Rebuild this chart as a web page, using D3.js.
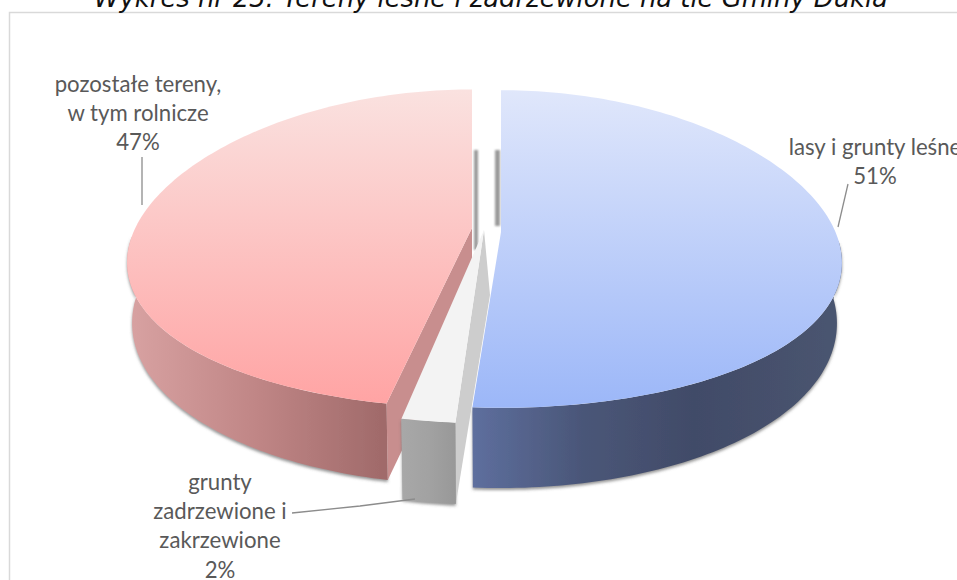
<!DOCTYPE html>
<html><head><meta charset="utf-8">
<script src="https://cdn.jsdelivr.net/npm/d3@7"></script>
<style>html,body{margin:0;padding:0;background:#fff;overflow:hidden}svg{display:block}</style>
</head><body><div id="c"></div>
<script>
const titleText = "Wykres nr 23: Tereny leśne i zadrzewione na tle Gminy Dukla";
const categories = ["lasy i grunty leśne","grunty zadrzewione i zakrzewione","pozostałe tereny, w tym rolnicze"];
const values = [51.2,2.3,46.5];
const labelLines = [["lasy i grunty leśne"],["grunty","zadrzewione i","zakrzewione"],["pozostałe tereny,","w tym rolnicze"]];

const W=957,H=580;
const svg=d3.select("#c").append("svg").attr("width",W).attr("height",H);
const defs=svg.append("defs");

function vgrad(id,c1,c2,y1,y2){const g=defs.append("linearGradient").attr("id",id).attr("gradientUnits","userSpaceOnUse")
 .attr("x1",0).attr("x2",0).attr("y1",y1).attr("y2",y2);
 g.append("stop").attr("offset",0).attr("stop-color",c1);g.append("stop").attr("offset",1).attr("stop-color",c2);}
function hgrad(id,stops,x1,x2){const g=defs.append("linearGradient").attr("id",id).attr("gradientUnits","userSpaceOnUse")
 .attr("x1",x1).attr("x2",x2).attr("y1",0).attr("y2",0);
 stops.forEach(s=>g.append("stop").attr("offset",s[0]).attr("stop-color",s[1]));}
vgrad("topBlue","#e0e7fb","#9cb7f8",90,407);
vgrad("topRed","#fae2e0","#ffa4a4",88,403);
hgrad("sideBlue",[[0,"#5e6f9e"],[.3,"#4a5678"],[.6,"#414b68"],[1,"#4a5570"]],472,842);
hgrad("sideRed",[[0,"#d8a2a2"],[.5,"#c08686"],[1,"#a06a6a"]],128,384);
hgrad("sideGray",[[0,"#a8a8a8"],[.5,"#a2a2a2"],[1,"#989898"]],401,456);
const soft=defs.append("filter").attr("id","soft").attr("x","-10%").attr("y","-10%").attr("width","120%").attr("height","120%");
soft.append("feDropShadow").attr("dx",0).attr("dy",2).attr("stdDeviation",1.6).attr("flood-color","#666").attr("flood-opacity",.7);
const blur=defs.append("filter").attr("id","blur");
blur.append("feGaussianBlur").attr("stdDeviation",.8);

// chart frame
svg.append("rect").attr("x",9.5).attr("y",12.5).attr("width",W+20).attr("height",H+20)
 .attr("fill","#fff").attr("stroke","#d9d9d9").attr("stroke-width",1.5);

// title (clipped by the top of the page in the reference)
svg.append("text").text(titleText).attr("x",491).attr("y",7).attr("text-anchor","middle")
 .attr("font-family","DejaVu Sans").attr("font-style","italic").attr("font-size",25.8).attr("fill","#111");

// pie layout, projected with a simple perspective
const pie=d3.pie().value(d=>d).sort(null)(values);
const deg=Math.PI/180;
const slices=[
 {apex:[501,232],persp:.107,top:{rx:339,ry:157,dy:0,bulge:14},bot:{rx:334,ry:170.6,dy:65,bulge:8},top_fill:"topBlue",side:"sideBlue",wall:[88*deg,Infinity]},
 {apex:[484,230],persp:.107,top:{rx:339,ry:172.5,dy:0,bulge:14},bot:{rx:334,ry:187,dy:65,bulge:8},top_fill:"#f3f3f3",side:"sideGray",wall:[0,Infinity]},
 {apex:[472,228],persp:.13,top:{rx:342,ry:156.5,dy:0,bulge:14},bot:{rx:337,ry:167,dy:65,bulge:8},top_fill:"topRed",side:"sideRed",wall:[0,272*deg]}
];
function proj(s,t,plane){
  const Y=-Math.cos(t), k=1/(1-s.persp*Y), sn=Math.sin(t);
  return [s.apex[0]+plane.rx*sn*k, s.apex[1]+plane.dy+plane.ry*Y*k+plane.bulge*sn*sn];
}
const line=d3.line();
function arcPts(s,t0,t1,plane){const n=Math.max(2,Math.ceil((t1-t0)/0.02));
  return d3.range(n+1).map(i=>proj(s,t0+(t1-t0)*i/n,plane));}
const paint=f=>f.startsWith("#")?f:`url(#${f})`;

// faint cut faces seen through the gap
const gapFaces=[[slices[2].apex[0]+2,150,4,100],[slices[0].apex[0]-6,150,5,76]];
svg.append("g").attr("filter","url(#blur)").selectAll("rect").data(gapFaces).join("rect")
 .attr("x",d=>d[0]).attr("y",d=>d[1]).attr("width",d=>d[2]).attr("height",d=>d[3]).attr("fill","#9a9a9a");

// leader lines
const leaders=[[[848,184],[838,227]],[[292,513],[360,506],[415,499]],[[142,157],[142,205]]];
const drawLeader=d=>svg.append("path").attr("d",line(d)).attr("fill","none").attr("stroke","#8c8c8c").attr("stroke-width",1.3);

[2,0,1].forEach(i=>{
  const p=pie[i],s=slices[i],a=s.apex,g=svg.append("g");
  const top=arcPts(s,p.startAngle,p.endAngle,s.top);
  const w0=Math.max(p.startAngle,s.wall[0]), w1=Math.min(p.endAngle,s.wall[1]);
  const wt=arcPts(s,w0,w1,s.top), wb=arcPts(s,w0,w1,s.bot);
  const wall=line(wt.concat(wb.slice().reverse()))+"Z";
  const topBase=proj(s,p.startAngle,s.top), botBase=proj(s,p.startAngle,s.bot);
  if(i===1) drawLeader(leaders[1]);
  g.append("path").attr("d",wall).attr("fill",paint(s.side)).attr("filter","url(#soft)");
  if(i===1){
    g.append("path").attr("d",line([a,topBase,botBase,[a[0]+6,a[1]+65]])+"Z").attr("fill","#cdcdcd");
    g.append("path").attr("d",wall).attr("fill",paint(s.side));
  }
  if(i===2){
    g.append("path").attr("d",line([a,topBase,botBase,[a[0],a[1]+76]])+"Z").attr("fill","#c88e8e");
  }
  g.append("path").attr("d",line([a].concat(top))+"Z").attr("fill",paint(s.top_fill));
});
drawLeader(leaders[0]);drawLeader(leaders[2]);

// labels
const labelPos=[[875,155],[220,490],[138,92]];
const lg=svg.append("g").attr("font-family","Lato").attr("font-size",22.2).attr("fill","#595959").attr("text-anchor","middle");
labelLines.forEach((ls,i)=>{
  const lines=ls.concat([Math.round(values[i])+"%"]);
  lines.forEach((t,j)=>{
    lg.append("text").text(t).attr("x",labelPos[i][0]).attr("y",labelPos[i][1]+j*29.2);
  });
});
</script></body></html>
